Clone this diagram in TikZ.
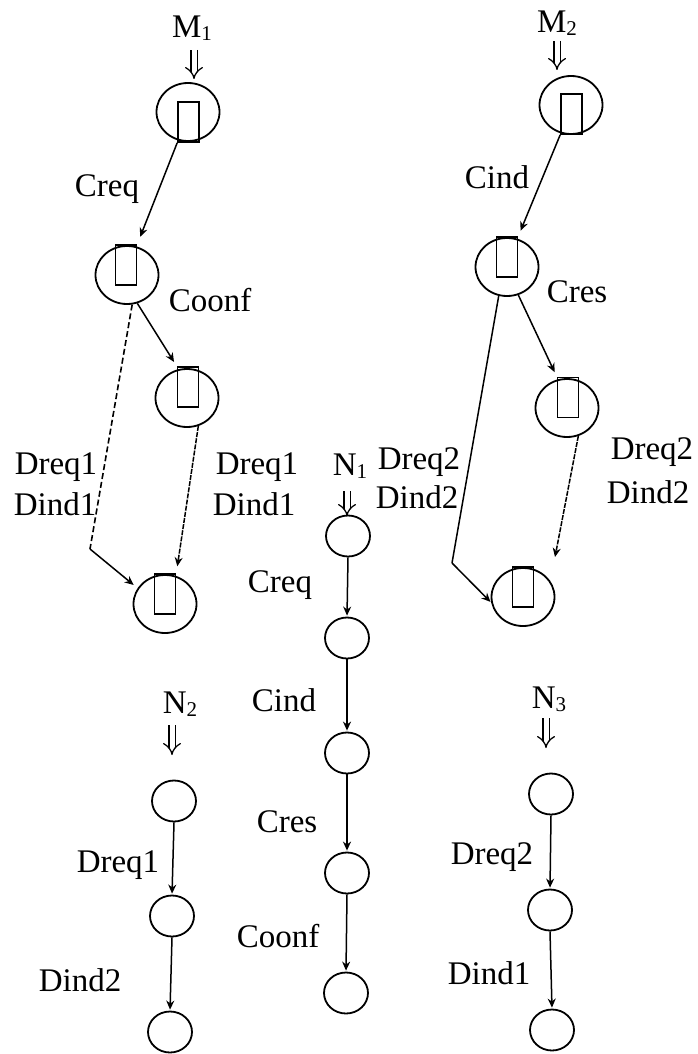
\documentclass[tikz,border=0pt]{standalone}
\usepackage{fontspec}
\setmainfont{Liberation Serif}
\usetikzlibrary{shapes.geometric,arrows.meta}
\newcommand{\sbs}[1]{{\fontsize{21}{24}\selectfont\raisebox{-3pt}{#1}}}
\begin{document}
\begin{tikzpicture}[x=1pt,y=-1pt,
  big/.style={ellipse,draw,line width=1.8pt,minimum width=63pt,minimum height=58pt,inner sep=0pt},
  box/.style={rectangle,draw,line width=1.6pt,inner sep=0pt,minimum width=21pt,minimum height=40pt},
  small/.style={ellipse,draw,line width=1.8pt,minimum width=44pt,minimum height=41pt,inner sep=0pt},
  lbl/.style={inner sep=0pt,font=\fontsize{33}{38}\selectfont},
  dbl/.style={double,double distance=5pt,line width=1.3pt,-{Implies[length=9pt,width=17pt]}},
  conn/.style={line width=1.5pt,-{Stealth[length=9pt,width=8pt]}},
  dsh/.style={line width=1.6pt,dash pattern=on 6pt off 3pt},
  fine/.style={line width=1.5pt,dash pattern=on 5pt off 1.2pt},
]
\useasboundingbox (0,0) rectangle (698,1054);
\fill[white] (0,0) rectangle (698,1054);

% ---------- left group M1 ----------
\node[lbl,anchor=base] (M1) at (192,38) {M\sbs{1}};
\coordinate (M1s) at (194,50);
\coordinate (M1e) at (194,79);
\draw[dbl] (M1s) -- (M1e);
\node[big] (A1) at (188,112) {};
\node[box] (R1) at (188.5,122) {};
\node[big] (A2) at (127,275) {};
\node[box] (R2) at (126,265) {};
\node[big] (A3) at (187,398) {};
\node[box] (R3) at (188,387) {};
\node[big] (A4) at (165,604) {};
\node[box] (R4) at (165,594) {};
\coordinate (k1) at (90,549);

\draw[conn,shorten >=8pt] (R1.south west) -- (R2.north east);
\draw[conn,shorten >=5pt] (A2.-70) -- (R3.north west);
\draw[conn,fine,shorten >=7pt] (A3.-68) -- (R4.north east);
\draw[dsh] (A2.-80) -- (k1);
\draw[conn,shorten >=5pt] (k1) -- (A4.150);

\node[lbl] (l1) at (107,189) {Creq};
\node[lbl] (l2) at (210,300) {Coonf};
\node[lbl] (l3) at (56,467) {Dreq1};
\node[lbl] (l4) at (55,504) {Dind1};
\node[lbl] (l5) at (257,467) {Dreq1};
\node[lbl] (l6) at (254,504) {Dind1};

% ---------- right group M2 ----------
\node[lbl,anchor=base] (M2) at (557,33) {M\sbs{2}};
\coordinate (M2s) at (557,41);
\coordinate (M2e) at (557,70);
\draw[dbl] (M2s) -- (M2e);
\node[big] (C1) at (571,105) {};
\node[box] (RC1) at (571.5,114) {};
\node[big] (C2) at (507,267) {};
\node[box] (RC2) at (507,257) {};
\node[big] (C3) at (567,408) {};
\node[box] (RC3) at (568,397.5) {};
\node[big] (C4) at (523,597) {};
\node[box] (RC4) at (523,587) {};
\coordinate (k2) at (452,563);
\coordinate (c34) at (555,557);

\draw[conn,shorten >=6pt] (RC1.south west) -- (RC2.north east);
\draw[conn,shorten >=5pt] (C2.-68) -- (RC3.north west);
\draw[conn,fine] (C3.-68) -- (c34);
\draw[line width=1.5pt] (C2.-106) -- (k2);
\draw[conn,shorten >=1pt] (k2) -- (C4.190);

\node[lbl] (r1) at (497,177) {Cind};
\node[lbl] (r2) at (577,292) {Cres};
\node[lbl] (r3) at (419,462) {Dreq2};
\node[lbl] (r4) at (417,497) {Dind2};
\node[lbl] (r5) at (652,452) {Dreq2};
\node[lbl] (r6) at (648,492) {Dind2};

% ---------- N1 ----------
\node[lbl,anchor=base] (N1) at (350,475) {N\sbs{1}};
\coordinate (N1s) at (347,491);
\coordinate (N1e) at (347,516);
\draw[dbl] (N1s) -- (N1e);
\node[small] (n1a) at (348,536) {};
\node[small] (n1b) at (347,638) {};
\node[small] (n1c) at (347,753) {};
\node[small] (n1d) at (347,873) {};
\node[small] (n1e) at (346,993) {};
\draw[conn,shorten >=1pt] (n1a.south) -- (n1b.north);
\draw[conn,shorten >=1pt] (n1b.south) -- (n1c.north);
\draw[conn,shorten >=1pt] (n1c.south) -- (n1d.north);
\draw[conn,shorten >=1pt] (n1d.south) -- (n1e.north);
\node[lbl] (m1) at (280,585) {Creq};
\node[lbl] (m2) at (284,700) {Cind};
\node[lbl] (m3) at (287,822) {Cres};
\node[lbl] (m4) at (278,936) {Coonf};

% ---------- N2 ----------
\node[lbl,anchor=base] (N2) at (180,713) {N\sbs{2}};
\coordinate (N2s) at (172,725);
\coordinate (N2e) at (172,755);
\draw[dbl] (N2s) -- (N2e);
\node[small] (n2a) at (174,801) {};
\node[small] (n2b) at (172,916) {};
\node[small] (n2c) at (170,1032) {};
\draw[conn,shorten >=1pt] (n2a.south) -- (n2b.north);
\draw[conn,shorten >=1pt] (n2b.south) -- (n2c.north);
\node[lbl] (p1) at (118,865) {Dreq1};
\node[lbl] (p2) at (80,980) {Dind2};

% ---------- N3 ----------
\node[lbl,anchor=base] (N3) at (549,708) {N\sbs{3}};
\coordinate (N3s) at (546,718);
\coordinate (N3e) at (546,748);
\draw[dbl] (N3s) -- (N3e);
\node[small] (n3a) at (551,794) {};
\node[small] (n3b) at (550,910) {};
\node[small] (n3c) at (552,1030) {};
\draw[conn,shorten >=1pt] (n3a.south) -- (n3b.north);
\draw[conn,shorten >=1pt] (n3b.south) -- (n3c.north);
\node[lbl] (q1) at (492,857) {Dreq2};
\node[lbl] (q2) at (489,973) {Dind1};
\end{tikzpicture}
\end{document}
